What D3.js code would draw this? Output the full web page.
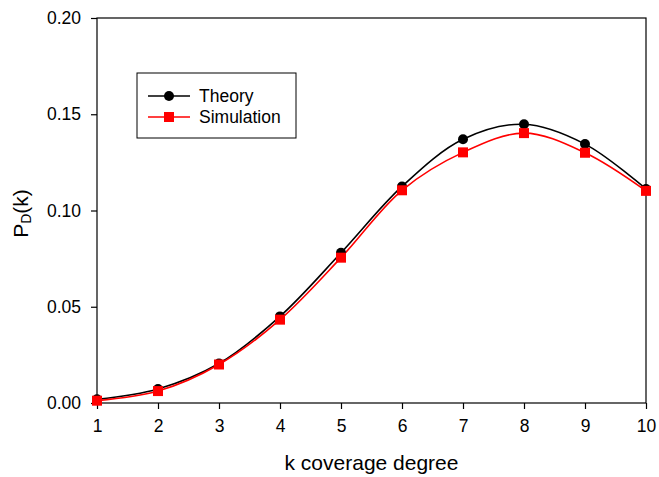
<!DOCTYPE html>
<html>
<head>
<meta charset="utf-8">
<script src="https://cdn.jsdelivr.net/npm/d3@7"></script>
<style>
  body { margin: 0; background: #fff; }
  svg { font-family: "Liberation Sans", Arial, sans-serif; }
</style>
</head>
<body>
<div id="chart"></div>
<script>
// data
const kValues = [1, 2, 3, 4, 5, 6, 7, 8, 9, 10];
const theory = [0.0019, 0.0073, 0.0205, 0.0450, 0.0780, 0.1125, 0.1370, 0.1448, 0.1345, 0.1112];
const simulation = [0.0012, 0.0062, 0.0200, 0.0433, 0.0755, 0.1105, 0.1302, 0.1402, 0.1300, 0.1102];
const xTicks = [1, 2, 3, 4, 5, 6, 7, 8, 9, 10];
const yTicks = [0, 0.05, 0.10, 0.15, 0.20];

function drawChart() {
    const W = 659, H = 477;
    var margin = {top: 18, right: 13, bottom: 74, left: 97},
        width = W - margin.left - margin.right,
        height = H - margin.top - margin.bottom;

    var svg = d3.select("#chart")
        .append("svg")
        .attr("width", W)
        .attr("height", H)
        .append("g")
        .attr("transform", "translate(" + margin.left + "," + margin.top + ")");

    var x = d3.scaleLinear().domain([1, 10]).range([0, width]);
    var y = d3.scaleLinear().domain([0, 0.20]).range([height, 0]);

    // frame
    svg.append("rect")
        .attr("width", width).attr("height", height)
        .attr("fill", "none").attr("stroke", "#000").attr("stroke-width", 1.2);

    // axes
    var xAxis = svg.append("g")
        .attr("transform", "translate(0," + height + ")")
        .call(d3.axisBottom(x).tickValues(xTicks).tickSize(6).tickPadding(11).tickFormat(d3.format("d")));
    var yAxis = svg.append("g")
        .call(d3.axisLeft(y).tickValues(yTicks).tickSize(6).tickPadding(10).tickFormat(d3.format(".2f")));
    [xAxis, yAxis].forEach(function(a) {
        a.select(".domain").remove();
        a.selectAll("line").attr("stroke", "#000").attr("stroke-width", 1.2);
        a.selectAll("text").attr("font-size", "17.5px").attr("fill", "#000")
            .style("font-family", "Liberation Sans, Arial, sans-serif");
    });

    // axis labels
    svg.append("text")
        .attr("text-anchor", "middle")
        .attr("x", width / 2)
        .attr("y", height + 67)
        .attr("font-size", "21px")
        .text("k coverage degree");

    var yl = svg.append("text")
        .attr("text-anchor", "middle")
        .attr("transform", "translate(" + (-69) + "," + (height / 2 + 3) + ") rotate(-90)")
        .attr("font-size", "21px");
    yl.append("tspan").text("P");
    yl.append("tspan").attr("font-size", "14px").attr("dy", 3).text("D");
    yl.append("tspan").attr("dy", -3).text("(k)");

    var line = d3.line()
        .x(function(d, i) { return x(kValues[i]); })
        .y(function(d) { return y(d); })
        .curve(d3.curveCatmullRom);

    // theory
    svg.append("path").datum(theory)
        .attr("d", line).attr("fill", "none").attr("stroke", "#000").attr("stroke-width", 1.6);
    // simulation
    svg.append("path").datum(simulation)
        .attr("d", line).attr("fill", "none").attr("stroke", "#ff0000").attr("stroke-width", 1.6);

    svg.append("g").selectAll("circle")
        .data(theory).enter()
        .append("circle")
        .attr("cx", function(d, i) { return x(kValues[i]); })
        .attr("cy", function(d) { return y(d); })
        .attr("r", 5)
        .attr("fill", "#000");

    var sq = 10;
    svg.append("g").selectAll("rect")
        .data(simulation).enter()
        .append("rect")
        .attr("x", function(d, i) { return x(kValues[i]) - sq / 2; })
        .attr("y", function(d) { return y(d) - sq / 2; })
        .attr("width", sq).attr("height", sq)
        .attr("fill", "#ff0000");

    // legend
    var lg = svg.append("g").attr("transform", "translate(" + (137 - margin.left) + "," + (73 - margin.top) + ")");
    lg.append("rect").attr("width", 159).attr("height", 65)
        .attr("fill", "#fff").attr("stroke", "#000").attr("stroke-width", 1);
    var items = [{name: "Theory", color: "#000", shape: "circle"},
                 {name: "Simulation", color: "#ff0000", shape: "square"}];
    items.forEach(function(it, i) {
        var cy = 23 + i * 21;
        lg.append("line").attr("x1", 11).attr("x2", 53).attr("y1", cy).attr("y2", cy)
            .attr("stroke", it.color).attr("stroke-width", 1.6);
        if (it.shape === "circle") {
            lg.append("circle").attr("cx", 32).attr("cy", cy).attr("r", 5).attr("fill", it.color);
        } else {
            lg.append("rect").attr("x", 32 - sq / 2).attr("y", cy - sq / 2)
                .attr("width", sq).attr("height", sq).attr("fill", it.color);
        }
        lg.append("text").attr("x", 62).attr("y", cy + 6)
            .attr("font-size", "17.5px").text(it.name);
    });
}

drawChart();
</script>
</body>
</html>
